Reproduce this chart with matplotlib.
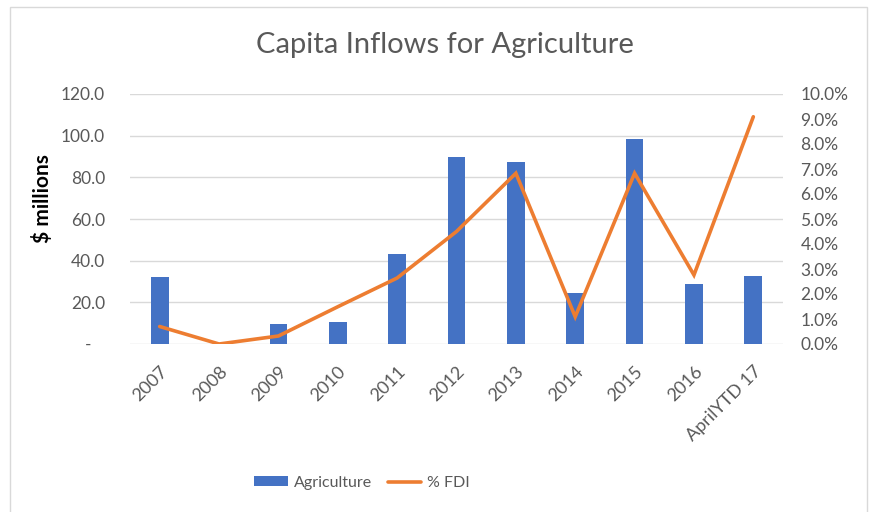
import matplotlib
matplotlib.use("Agg")
import matplotlib.pyplot as plt
from matplotlib.patches import Rectangle
from matplotlib.ticker import FixedLocator, FuncFormatter

categories = ["2007", "2008", "2009", "2010", "2011", "2012", "2013",
              "2014", "2015", "2016", "AprilYTD 17"]
agriculture = [32.0, 0.0, 9.8, 10.7, 43.0, 90.0, 87.4, 24.3, 98.4, 28.6, 32.8]
fdi_pct = [0.70, 0.0, 0.32, 1.49, 2.64, 4.5, 6.83, 1.09, 6.83, 2.76, 9.09]

left_ticks = [0, 20, 40, 60, 80, 100, 120]
right_ticks = [0, 1, 2, 3, 4, 5, 6, 7, 8, 9, 10]

BLUE = "#4472c4"
ORANGE = "#ed7d31"
GREY_TXT = "#595959"
GRID = "#d9d9d9"
FONT = "Lato"
TICK_SIZE = 12.5

plt.rcParams["font.family"] = [FONT, "DejaVu Sans"]

fig = plt.figure(figsize=(8.71, 5.12), dpi=100)
W, H = 871, 512

# chart frame
fig.patches.append(Rectangle((10 / W, -0.01), 857 / W, (H - 7) / H + 0.01,
                             transform=fig.transFigure, fill=False,
                             edgecolor=GRID, linewidth=1.0))

ax = fig.add_axes([130 / W, (H - 344) / H, 653 / W, 250 / H])
x = list(range(len(categories)))
ax.bar(x, agriculture, width=0.3, color=BLUE, zorder=2, label="Agriculture")
ax.set_xlim(-0.5, len(categories) - 0.5)
ax.set_ylim(0, 120)
ax.yaxis.set_major_locator(FixedLocator(left_ticks))
ax.yaxis.set_major_formatter(FuncFormatter(
    lambda v, p: "-   " if v == 0 else f"{v:.1f}"))
ax.grid(axis="y", color=GRID, linewidth=1.0, zorder=0)
ax.set_axisbelow(True)
for s in ax.spines.values():
    s.set_visible(False)
ax.tick_params(axis="both", length=0, colors=GREY_TXT, labelsize=TICK_SIZE)
ax.tick_params(axis="y", pad=18)
ax.set_xticks(x)
ax.set_xticklabels(categories, rotation=45, ha="right",
                   rotation_mode="anchor", color=GREY_TXT, fontsize=13)
ax.tick_params(axis="x", pad=14)
ax.set_ylabel("$ millions", fontsize=15, fontweight="bold", color="black")
ax.yaxis.set_label_coords(-0.118, 0.58)

ax2 = ax.twinx()
ax2.plot(x, fdi_pct, color=ORANGE, linewidth=2.6, zorder=3,
         solid_capstyle="round", solid_joinstyle="miter", label="% FDI")
ax2.set_ylim(0, 10)
ax2.yaxis.set_major_locator(FixedLocator(right_ticks))
ax2.yaxis.set_major_formatter(FuncFormatter(lambda v, p: f"{v:.1f}%"))
for s in ax2.spines.values():
    s.set_visible(False)
ax2.tick_params(axis="y", length=0, colors=GREY_TXT, labelsize=TICK_SIZE,
                pad=12.5)

fig.text(445 / W, 1 - 45 / H, "Capita Inflows for Agriculture",
         ha="center", va="center", fontsize=21, color=GREY_TXT)

h1, l1 = ax.get_legend_handles_labels()
h2, l2 = ax2.get_legend_handles_labels()
fig.legend(h1 + h2, l1 + l2, loc="center", bbox_to_anchor=(362 / W, 1 - 483 / H),
           ncol=2, frameon=False, fontsize=11.5, labelcolor=GREY_TXT,
           handlelength=2.1, handleheight=0.6, columnspacing=1.0,
           handletextpad=0.35)

fig.savefig("out.png", dpi=100)
